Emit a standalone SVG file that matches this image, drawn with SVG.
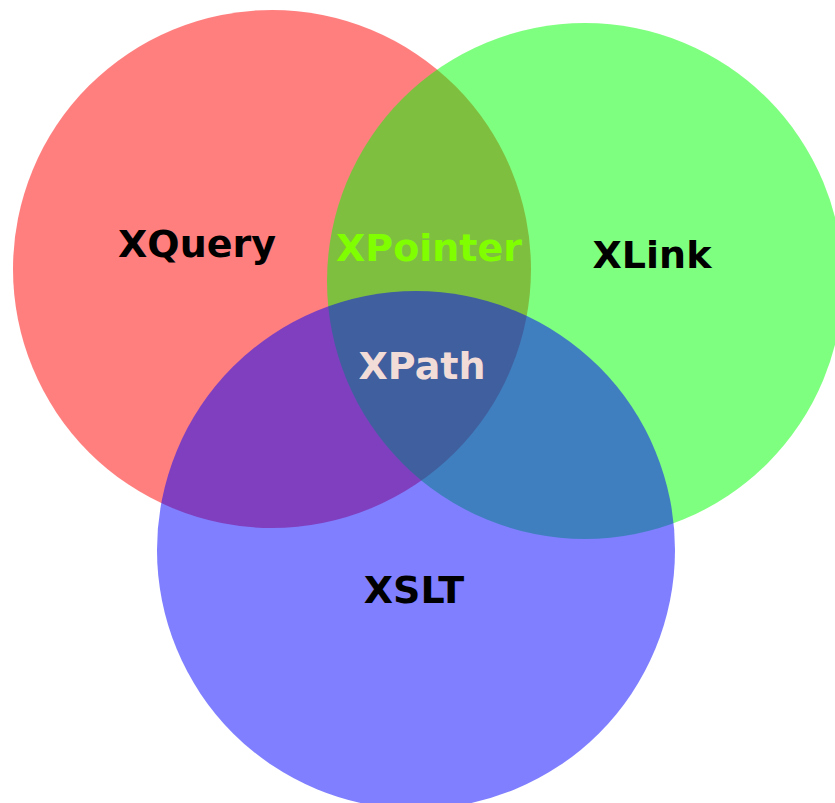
<svg xmlns="http://www.w3.org/2000/svg" width="835" height="803" viewBox="0 0 835 803">
  <style>
    .set { opacity: 0.5; }
    .lbl { font-family: "DejaVu Sans", "Liberation Sans", sans-serif; font-weight: bold; font-size: 38px; text-anchor: middle; }
  </style>
  <rect width="835" height="803" fill="#ffffff"/>
  <!-- Three overlapping sets -->
  <g id="xquery">
    <circle class="set" cx="272" cy="269" r="259" fill="#ff0000"/>
  </g>
  <g id="xlink">
    <circle class="set" cx="585" cy="281" r="258" fill="#00ff00"/>
  </g>
  <g id="xslt">
    <circle class="set" cx="416" cy="550" r="259" fill="#0000ff"/>
  </g>
  <!-- Labels -->
  <g id="labels">
    <text class="lbl" x="197" y="257" fill="#000000">XQuery</text>
    <text class="lbl" x="429" y="261" fill="#80ff00">XPointer</text>
    <text class="lbl" x="652" y="268" fill="#000000">XLink</text>
    <text class="lbl" x="422" y="379" fill="#f2dcd8">XPath</text>
    <text class="lbl" x="414" y="603" fill="#000000">XSLT</text>
  </g>
</svg>
